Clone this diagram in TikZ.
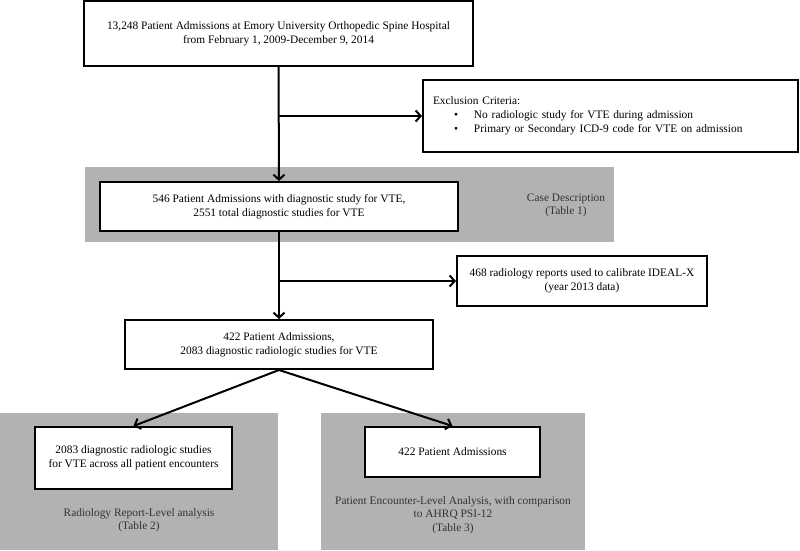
\documentclass[tikz,border=0pt]{standalone}
\usepackage{fontspec}
\setmainfont{Liberation Serif}
\usepackage{tikz}
\usetikzlibrary{positioning}
\usetikzlibrary{arrows.meta}
\usepackage{xcolor}
\tikzstyle{B} = [rectangle,fill=white,draw=black,line width=2pt,align=center,inner sep=0pt,font=\fontsize{11.4}{14}\selectfont]
\tikzstyle{G} = [rectangle,fill=black!30,draw=none,inner sep=0pt]
\tikzstyle{C} = [align=center,font=\fontsize{11.4}{13.5}\selectfont,text=black!80]
\tikzset{>={Straight Barb[length=5pt,width=11pt]}}

\begin{document}
\begin{tikzpicture}[x=1pt,y=-1pt]
  \useasboundingbox (0,0) rectangle (800,550);

  % shaded groups
  \node [G,minimum width=529,minimum height=75] (r1) at (349.5,204.5) {};
  \node [G,minimum width=278,minimum height=137] (r2) at (139,481.5) {};
  \node [G,minimum width=264,minimum height=137] (r3) at (453,481.5) {};

  \node [B,minimum width=389,minimum height=65] (n1) at (278.5,33.5)
    {13,248 Patient Admissions at Emory University Orthopedic Spine Hospital\\
     from February 1, 2009-December 9, 2014};
  \node [B,minimum width=375,minimum height=72,align=left,text width=355] (n2) at (610.5,116)
    {Exclusion Criteria:\\
     \hspace*{21pt}\textbullet\hspace{16pt}No radiologic study for VTE during admission\\
     \hspace*{21pt}\textbullet\hspace{16pt}Primary or Secondary ICD-9 code for VTE on admission};
  \node [B,minimum width=358,minimum height=49] (n3) at (279,206.5)
    {546 Patient Admissions with diagnostic study for VTE,\\
     2551 total diagnostic studies for VTE};
  \node [C] (c1) at (566,205.5) {Case Description\\(Table 1)};

  \node [B,minimum width=250,minimum height=50] (n4) at (582,281)
    {468 radiology reports used to calibrate IDEAL-X\\(year 2013 data)};
  \node [B,minimum width=308,minimum height=49] (n5) at (279,344.5)
    {422 Patient Admissions,\\2083 diagnostic radiologic studies for VTE};

  \node [B,minimum width=197,minimum height=62] (n6) at (133.5,458)
    {2083 diagnostic radiologic studies\\for VTE across all patient encounters};
  \node [C] (c2) at (139,520) {Radiology Report-Level analysis\\(Table 2)};
  \node [B,minimum width=175,minimum height=50] (n7) at (452.5,452)
    {422 Patient Admissions};
  \node [C] (c3) at (453,515)
    {Patient Encounter-Level Analysis, with comparison\\to AHRQ PSI-12\\(Table 3)};

  \coordinate (j1) at (n1.south |- n2.west);
  \coordinate (j2) at (n3.south |- n4.west);

  \draw [->,line width=2pt] (n1.south) -- (n3.north);
  \draw [->,line width=2pt] (j1) -- (n2.west);
  \draw [->,line width=2pt] (n3.south) -- (n5.north);
  \draw [->,line width=2pt] (j2) -- (n4.west);
  \draw [->,line width=2pt] (n5.south) -- (n6.north);
  \draw [->,line width=2pt] (n5.south) -- (n7.north);

\end{tikzpicture}
\end{document}
